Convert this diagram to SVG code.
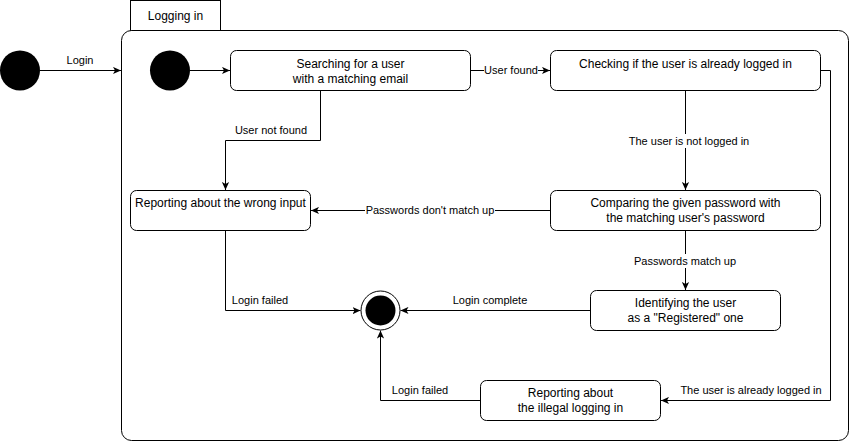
<svg xmlns="http://www.w3.org/2000/svg" width="852" height="442" viewBox="0 0 852 442">
<style>
text{font-family:"Liberation Sans",Arial,sans-serif;fill:#000}
.n{font-size:12px;text-anchor:middle}
.e{font-size:11px;text-anchor:middle}
.box{fill:#fff;stroke:#000;stroke-width:1}
.ln{fill:none;stroke:#000;stroke-width:1}
.bg{fill:#fff}
</style>
<defs>
<marker id="arr" viewBox="0 0 10 10" refX="10" refY="5" markerWidth="8" markerHeight="8" markerUnits="userSpaceOnUse" orient="auto">
<path d="M0,0.5 L10,5 L0,9.5 L2.5,5 z" fill="#000"/>
</marker>
</defs>
<rect width="852" height="442" fill="#fff"/>

<g id="container">
<rect class="box" x="130.5" y="0.5" width="90" height="30"/>
<text class="n" x="175.5" y="20">Logging in</text>
<rect class="box" x="121.5" y="30.5" width="727" height="410" rx="10"/>
</g>

<g id="start-outer"><circle cx="20" cy="70.5" r="20" fill="#000"/></g>
<g id="start-inner"><circle cx="170" cy="70.5" r="20" fill="#000"/></g>

<g id="searching">
<rect class="box" x="230.5" y="50.5" width="240" height="40" rx="6"/>
<text class="n" x="350.5" y="68">Searching for a user</text>
<text class="n" x="350.5" y="83">with a matching email</text>
</g>

<g id="checking">
<rect class="box" x="550.5" y="50.5" width="270" height="40" rx="6"/>
<text class="n" x="685.5" y="68">Checking if the user is already logged in</text>
</g>

<g id="wrong-input">
<rect class="box" x="130.5" y="190.5" width="180" height="40" rx="6"/>
<text class="n" x="220.5" y="207">Reporting about the wrong input</text>
</g>

<g id="comparing">
<rect class="box" x="550.5" y="190.5" width="270" height="40" rx="6"/>
<text class="n" x="685.5" y="207">Comparing the given password with</text>
<text class="n" x="685.5" y="222">the matching user's password</text>
</g>

<g id="identifying">
<rect class="box" x="590.5" y="290.5" width="190" height="40" rx="6"/>
<text class="n" x="685.5" y="307">Identifying the user</text>
<text class="n" x="685.5" y="322">as a "Registered" one</text>
</g>

<g id="illegal">
<rect class="box" x="480.5" y="380.5" width="180" height="40" rx="6"/>
<text class="n" x="570.5" y="397">Reporting about</text>
<text class="n" x="570.5" y="412">the illegal logging in</text>
</g>

<g id="final">
<circle cx="380.5" cy="310.5" r="19.5" fill="#fff" stroke="#000" stroke-width="1"/>
<circle cx="380.5" cy="310.5" r="15" fill="#000"/>
</g>

<g id="connectors">
<path class="ln" d="M40,70.5 H121" marker-end="url(#arr)"/>
<text class="e" x="80" y="64">Login</text>

<path class="ln" d="M190,70.5 H230" marker-end="url(#arr)"/>

<path class="ln" d="M470.5,70.5 H550" marker-end="url(#arr)"/>
<rect class="bg" x="484" y="63" width="54" height="14"/>
<text class="e" x="511" y="74">User found</text>

<path class="ln" d="M320.5,90.5 V140.5 H225.5 V190" marker-end="url(#arr)"/>
<text class="e" x="271" y="134">User not found</text>

<path class="ln" d="M685.5,90.5 V190" marker-end="url(#arr)"/>
<rect class="bg" x="629" y="134" width="120" height="14"/>
<text class="e" x="689" y="144.5">The user is not logged in</text>

<path class="ln" d="M550.5,210.5 H311" marker-end="url(#arr)"/>
<rect class="bg" x="365" y="203" width="130" height="14"/>
<text class="e" x="430" y="214">Passwords don't match up</text>

<path class="ln" d="M685.5,230.5 V290" marker-end="url(#arr)"/>
<rect class="bg" x="632" y="254" width="106" height="14"/>
<text class="e" x="685" y="264.5">Passwords match up</text>

<path class="ln" d="M225.5,230.5 V310.5 H360.5" marker-end="url(#arr)"/>
<text class="e" x="260" y="304">Login failed</text>

<path class="ln" d="M590.5,310.5 H400.5" marker-end="url(#arr)"/>
<text class="e" x="490" y="304">Login complete</text>

<path class="ln" d="M820.5,70.5 H830.5 V400.5 H661" marker-end="url(#arr)"/>
<text class="e" x="751" y="394">The user is already logged in</text>

<path class="ln" d="M480.5,400.5 H380.5 V330.5" marker-end="url(#arr)"/>
<text class="e" x="420" y="394">Login failed</text>
</g>
</svg>
